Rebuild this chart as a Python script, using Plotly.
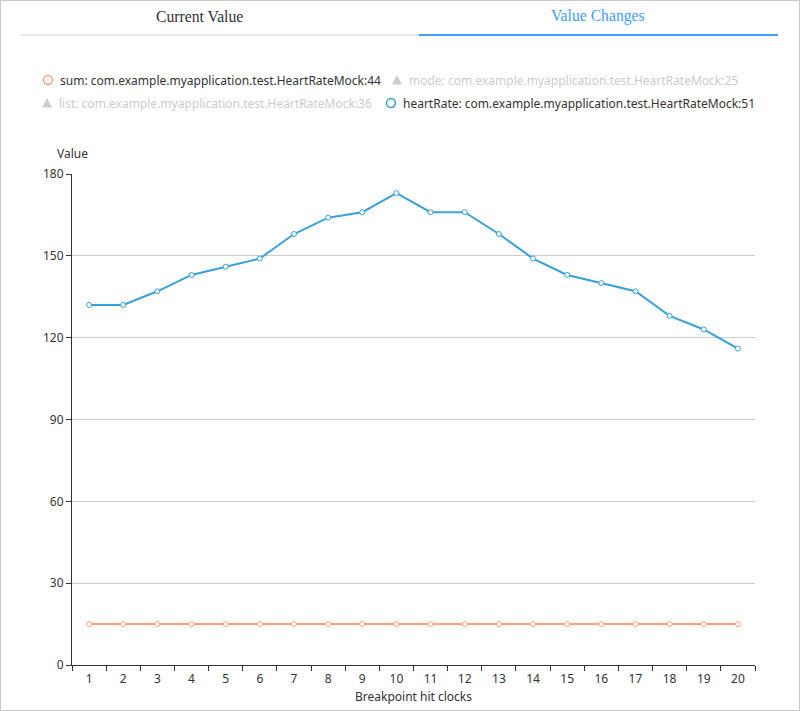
import plotly.graph_objects as go

clocks = list(range(1, 21))
heart_rate = [132, 132, 137, 143, 146, 149, 158, 164, 166, 173, 166, 166, 158, 149, 143, 140, 137, 128, 123, 116]
sum_values = [15] * 20
y_ticks = [0, 30, 60, 90, 120, 150, 180]

legend_items = [
    ("sum: com.example.myapplication.test.HeartRateMock:44", "circle", "#ff9f7f", True),
    ("mode: com.example.myapplication.test.HeartRateMock:25", "triangle", "#cccccc", False),
    ("list: com.example.myapplication.test.HeartRateMock:36", "triangle", "#cccccc", False),
    ("heartRate: com.example.myapplication.test.HeartRateMock:51", "circle", "#37a2da", True),
]

W, H = 800, 711
L, R, T, B = 72, 45, 174, 46
PW, PH = W - L - R, H - T - B


def px(x):
    return (x - L) / PW


def py(y):
    return (H - B - y) / PH


FONT = "Noto Sans"

fig = go.Figure()
fig.add_trace(go.Scatter(
    x=clocks, y=sum_values, mode="lines+markers", name="sum",
    line=dict(color="#ff9f7f", width=2),
    marker=dict(symbol="circle", size=5, color="white", line=dict(color="#ff9f7f", width=1)),
    showlegend=False, hoverinfo="x+y"))
fig.add_trace(go.Scatter(
    x=clocks, y=heart_rate, mode="lines+markers", name="heartRate",
    line=dict(color="#37a2da", width=2),
    marker=dict(symbol="circle", size=5, color="white", line=dict(color="#37a2da", width=1)),
    showlegend=False, hoverinfo="x+y"))

shapes = []
annotations = []

# outer border
shapes.append(dict(type="rect", xref="paper", yref="paper",
                   x0=px(0.5), x1=px(799.5), y0=py(0.5), y1=py(710.5),
                   line=dict(color="#c8c8c8", width=1), fillcolor="rgba(0,0,0,0)", layer="below"))
# tabs
shapes.append(dict(type="line", xref="paper", yref="paper", x0=px(20), x1=px(419), y0=py(35), y1=py(35),
                   line=dict(color="#e4e7ed", width=2)))
shapes.append(dict(type="line", xref="paper", yref="paper", x0=px(419), x1=px(778), y0=py(35), y1=py(35),
                   line=dict(color="#409eff", width=2)))
annotations.append(dict(text="Current Value", x=px(199), y=py(16), xref="paper", yref="paper",
                        showarrow=False, xanchor="center", yanchor="middle",
                        font=dict(family="Liberation Serif", size=15.7, color="#303133")))
annotations.append(dict(text="Value Changes", x=px(598), y=py(16), xref="paper", yref="paper",
                        showarrow=False, xanchor="center", yanchor="middle",
                        font=dict(family="Liberation Serif", size=15.7, color="#409eff")))

# manual legend
positions = [(48, 80), (397, 80), (47, 103), (391, 103)]
for (label, icon, color, active), (ix, iy) in zip(legend_items, positions):
    if icon == "circle":
        shapes.append(dict(type="circle", xref="paper", yref="paper",
                           x0=px(ix - 4.5), x1=px(ix + 4.5), y0=py(iy - 4.5), y1=py(iy + 4.5),
                           line=dict(color=color, width=1.5), fillcolor="white"))
    else:
        path = "M {} {} L {} {} L {} {} Z".format(
            px(ix), py(iy - 5), px(ix - 5), py(iy + 4.5), px(ix + 5), py(iy + 4.5))
        shapes.append(dict(type="path", xref="paper", yref="paper", path=path,
                           line=dict(color=color, width=0), fillcolor=color))
    annotations.append(dict(text=label, x=px(ix + 9.5), y=py(iy), xref="paper", yref="paper",
                            showarrow=False, xanchor="left", yanchor="middle",
                            font=dict(family=FONT, size=12, color="#333333" if active else "#cccccc")))

# y axis name
annotations.append(dict(text="Value", x=px(72), y=py(153), xref="paper", yref="paper",
                        showarrow=False, xanchor="center", yanchor="middle",
                        font=dict(family=FONT, size=12, color="#333333")))

fig.update_layout(
    width=W, height=H, autosize=False,
    margin=dict(l=L, r=R, t=T, b=B, pad=0),
    paper_bgcolor="white", plot_bgcolor="white",
    font=dict(family=FONT, size=12, color="#333333"),
    shapes=shapes, annotations=annotations,
    showlegend=False,
    xaxis=dict(
        range=[0.5, 20.5], tickmode="array", tickvals=clocks, ticktext=[str(c) for c in clocks],
        ticks="", showgrid=False, zeroline=False, automargin=False,
        showline=True, linecolor="#333333", linewidth=1,
        ticklabelstandoff=3,
        tickfont=dict(family=FONT, size=12, color="#333333"),
        minor=dict(tickmode="array", tickvals=[c - 0.5 for c in clocks] + [20.5],
                   ticks="outside", ticklen=5, tickcolor="#333333", showgrid=False),
        title=dict(text="Breakpoint hit clocks", standoff=6,
                   font=dict(family=FONT, size=12, color="#333333")),
        fixedrange=True,
    ),
    yaxis=dict(
        range=[0, 180], tickmode="array", tickvals=y_ticks, automargin=False,
        ticks="outside", ticklen=5, tickcolor="#333333",
        showgrid=True, gridcolor="#cccccc", gridwidth=1, zeroline=False,
        showline=True, linecolor="#333333", linewidth=1,
        tickfont=dict(family=FONT, size=12, color="#333333"),
        fixedrange=True,
    ),
)

fig.write_html("out.html", config={"displayModeBar": False})
